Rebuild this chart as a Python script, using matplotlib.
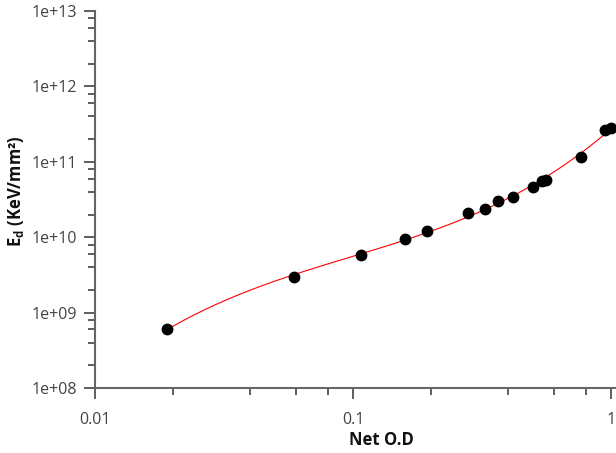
import numpy as np
import matplotlib
matplotlib.use("Agg")
import matplotlib.pyplot as plt
from matplotlib.ticker import LogLocator, FuncFormatter, NullFormatter

plt.rcParams['font.family'] = ['Open Sans', 'DejaVu Sans']
plt.rcParams['mathtext.fontset'] = 'custom'
plt.rcParams['mathtext.rm'] = 'Open Sans'
plt.rcParams['mathtext.bf'] = 'Open Sans:bold'
plt.rcParams['mathtext.it'] = 'Open Sans:italic'

net_od = [0.019, 0.059, 0.107, 0.159, 0.194, 0.280, 0.325, 0.366, 0.416,
          0.497, 0.539, 0.560, 0.765, 0.945, 1.0]
dose = [6.06e8, 2.97e9, 5.8e9, 9.47e9, 1.21e10, 2.07e10, 2.37e10, 3.05e10,
        3.44e10, 4.59e10, 5.56e10, 5.74e10, 1.15e11, 2.64e11, 2.83e11]

x_label = "Net O.D"
y_label = r"$\mathbf{E_d}$ (KeV/mm²)"

W, H = 616, 453
fig = plt.figure(figsize=(W / 100, H / 100), dpi=100)
ax = fig.add_axes([95 / W, (H - 388) / H, 572 / W, 377 / H])

# smooth fit in log-log space
lx = np.log10(net_od)
ly = np.log10(dose)
coef = np.polyfit(lx, ly, 3)
xs = np.linspace(lx.min(), lx.max(), 300)
ax.plot(10 ** xs, 10 ** np.polyval(coef, xs), color='#ff0000', lw=0.8, zorder=2)
ax.plot(net_od, dose, 'o', color='black', ms=7.5, zorder=3)

ax.set_xscale('log')
ax.set_yscale('log')
ax.set_xlim(0.01, 10 ** (572 / 258 - 2))
ax.set_ylim(1e8, 1e13)

ax.xaxis.set_major_locator(LogLocator(base=10, numticks=10))
ax.xaxis.set_minor_locator(LogLocator(base=10, subs=(2, 4, 6, 8), numticks=10))
ax.yaxis.set_major_locator(LogLocator(base=10, numticks=10))
ax.yaxis.set_minor_locator(LogLocator(base=10, subs=(2, 4, 6, 8), numticks=10))
ax.xaxis.set_major_formatter(FuncFormatter(lambda v, p: f"{v:g}"))
ax.yaxis.set_major_formatter(FuncFormatter(lambda v, p: f"{v:.0e}"))
ax.xaxis.set_minor_formatter(NullFormatter())
ax.yaxis.set_minor_formatter(NullFormatter())

for s in ['top', 'right']:
    ax.spines[s].set_visible(False)
for s in ['left', 'bottom']:
    ax.spines[s].set_color('#666666')
    ax.spines[s].set_linewidth(1.5)

ax.tick_params(which='major', length=8, width=1.1, color='#333333',
               labelsize=11.5, labelcolor='#444444', pad=5)
ax.tick_params(axis='x', which='major', pad=9)
ax.tick_params(which='minor', length=5, width=1.1, color='#333333')

ax.set_xlabel(x_label, fontsize=12, fontweight='bold', color='#111111')
ax.set_ylabel(y_label, fontsize=12, fontweight='bold', color='#111111')
ax.yaxis.set_label_coords((26 - 95) / 572, (388 - 191) / 377)
ax.xaxis.set_label_coords((381 - 95) / 572, -(431 - 388) / 377)

fig.savefig('out.png', dpi=100)
